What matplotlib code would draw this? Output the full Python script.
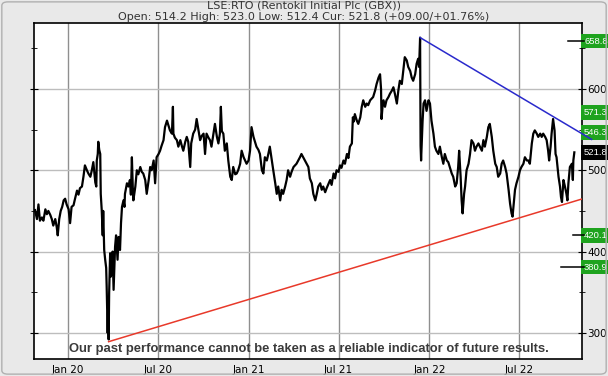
import matplotlib
matplotlib.use("Agg")
import matplotlib.pyplot as plt
import matplotlib.dates as mdates
import pandas as pd
from matplotlib.patches import FancyBboxPatch
from matplotlib.ticker import MultipleLocator

title = "LSE:RTO (Rentokil Initial Plc (GBX))"
subtitle = "Open: 514.2 High: 523.0 Low: 512.4 Cur: 521.8 (+09.00/+01.76%)"
disclaimer = "Our past performance cannot be taken as a reliable indicator of future results."

base_date = pd.Timestamp("2020-01-01")

# price, day offset from 1 Jan 2020
day_offsets = [
    -67, -63, -60, -57, -53, -50, -46, -43, -40, -36, -33, -30, -26, -23, -21, -18, -15, -12, -9, -6,
    -3, 1, 4, 7, 11, 14, 18, 21, 24, 28, 31, 34, 38, 41, 45, 48, 51, 55, 57, 58,
    60, 61, 63, 65, 66, 68, 70, 71, 73, 75, 77, 78, 80, 81, 82, 83, 85, 86, 88, 90,
    92, 94, 95, 97, 100, 102, 104, 105, 107, 109, 112, 114, 115, 119, 122, 125, 127, 129, 131, 132,
    136, 139, 142, 146, 149, 152, 156, 159, 163, 166, 169, 173, 176, 179, 183, 186, 189, 193, 196, 200,
    203, 206, 210, 212, 213, 216, 220, 223, 227, 230, 233, 237, 240, 243, 247, 249, 253, 257, 260, 264,
    267, 270, 274, 277, 280, 284, 287, 290, 294, 297, 301, 304, 307, 309, 311, 314, 317, 321, 324, 328,
    331, 334, 338, 341, 344, 348, 351, 355, 358, 361, 365, 368, 371, 375, 378, 381, 385, 388, 392, 395,
    398, 402, 405, 408, 412, 415, 419, 422, 425, 429, 432, 435, 439, 442, 445, 449, 452, 456, 462, 469,
    472, 479, 486, 489, 493, 496, 500, 503, 506, 510, 513, 516, 520, 523, 530, 533, 537, 540, 543, 547,
    550, 553, 557, 560, 564, 567, 570, 574, 576, 578, 580, 584, 587, 591, 594, 597, 601, 604, 607, 611,
    614, 617, 621, 624, 628, 631, 633, 634, 636, 638, 641, 644, 648, 651, 655, 658, 661, 665, 668, 671,
    675, 678, 681, 685, 688, 692, 695, 698, 702, 705, 708, 710, 712, 713, 714, 715, 717, 719, 722, 725,
    729, 732, 735, 737, 739, 742, 745, 749, 752, 756, 759, 762, 766, 769, 772, 776, 779, 783, 786, 789,
    791, 794, 796, 798, 801, 803, 806, 810, 813, 816, 820, 823, 826, 830, 833, 837, 840, 843, 847, 850,
    853, 857, 860, 864, 867, 870, 874, 877, 880, 884, 887, 891, 894, 897, 899, 902, 904, 907, 911, 914,
    917, 921, 924, 928, 931, 934, 938, 941, 944, 948, 951, 955, 958, 961, 965, 968, 971, 973, 976, 978,
    981, 984, 986, 988, 990, 992, 995, 997, 999, 1002, 1005, 1008, 1010, 1012, 1015, 1019, 1021, 1022, 1024,
]
prices = [
    451, 440, 458, 438, 442, 438, 452, 446, 450, 445, 440, 432, 440, 430, 420, 440, 450, 455, 463, 465,
    458, 452, 435, 455, 457, 465, 475, 470, 478, 480, 492, 506, 500, 496, 492, 500, 510, 485, 480, 512,
    520, 535, 525, 520, 471, 451, 420, 450, 402, 390, 380, 357, 300, 330, 292, 349, 398, 369, 373, 400,
    353, 390, 406, 420, 390, 418, 405, 402, 435, 455, 463, 455, 471, 484, 480, 488, 470, 516, 475, 463,
    480, 500, 495, 504, 498, 496, 488, 471, 488, 504, 500, 512, 484, 516, 520, 524, 530, 537, 553, 561,
    555, 549, 545, 578, 545, 540, 537, 529, 537, 530, 524, 535, 541, 535, 504, 533, 545, 550, 563, 548,
    537, 542, 545, 520, 545, 540, 537, 529, 545, 557, 541, 533, 545, 578, 548, 545, 524, 533, 512, 492,
    488, 504, 495, 496, 500, 508, 524, 516, 512, 508, 512, 524, 553, 541, 535, 529, 525, 520, 500, 496,
    516, 512, 520, 529, 512, 500, 484, 471, 480, 463, 476, 471, 480, 488, 500, 492, 498, 504, 508, 516,
    520, 512, 504, 490, 484, 471, 463, 471, 480, 484, 476, 480, 473, 478, 488, 482, 496, 490, 500, 498,
    506, 503, 512, 508, 520, 515, 529, 533, 565, 560, 569, 561, 557, 565, 578, 586, 578, 582, 580, 586,
    588, 590, 598, 606, 614, 618, 600, 563, 578, 586, 578, 586, 590, 594, 598, 602, 594, 582, 598, 610,
    606, 622, 639, 635, 627, 622, 614, 610, 618, 631, 637, 627, 663, 530, 512, 529, 560, 582, 586, 573,
    586, 582, 561, 553, 545, 529, 524, 520, 529, 516, 508, 520, 512, 510, 504, 496, 492, 480, 484, 504,
    524, 492, 463, 447, 471, 480, 500, 508, 520, 537, 533, 524, 529, 533, 529, 524, 537, 529, 541, 553,
    557, 541, 524, 508, 504, 492, 496, 508, 512, 504, 496, 476, 459, 447, 443, 463, 476, 484, 492, 500,
    504, 508, 516, 512, 512, 508, 533, 545, 549, 545, 541, 545, 541, 545, 541, 537, 524, 512, 529, 545,
    563, 549, 520, 516, 504, 492, 480, 467, 461, 488, 480, 471, 463, 484, 504, 508, 488, 512, 522,
]

# trend lines (day offset, price)
support_days = [82, 1039]
support_prices = [289.3, 464.6]
resist_days = [712, 1059]
resist_prices = [663.1, 537.9]

# target boxes on the right edge
target_levels = [658.8, 571.3, 546.3, 420.1, 380.9]
current_price = 521.8
# short black marker lines near the right edge
marker_levels = [658.8, 420.1, 380.9]
marker_start_days = [1011, 1021, 997]


def to_dates(offsets):
    return base_date + pd.to_timedelta(offsets, unit="D")


fig = plt.figure(figsize=(6.08, 3.76), dpi=100, facecolor="#e9e9e9")
fig.patches.append(FancyBboxPatch((0.003, 0.005), 0.994, 0.99, boxstyle="round,pad=0,rounding_size=0.01",
                                  transform=fig.transFigure, fc="none", ec="#b0b0b0", lw=1.0))
ax = fig.add_axes([34 / 608, 1 - 359 / 376, 548 / 608, 336 / 376])
ax.set_facecolor("white")

x_left = to_dates([-69])[0]
x_right = to_dates([1039.5])[0]
ax.set_xlim(x_left, x_right)
ax.set_ylim(268, 681)

ax.plot(to_dates(day_offsets), prices, color="black", lw=1.6, zorder=3)
ax.plot(to_dates(support_days), support_prices, color="#e8392a", lw=1.1, zorder=4)
ax.plot(to_dates(resist_days), resist_prices, color="#2a2acc", lw=1.1, zorder=4, clip_on=False)

for lvl, d in zip(marker_levels, marker_start_days):
    ax.plot(to_dates([d, 1043]), [lvl, lvl], color="black", lw=1.1, clip_on=False, zorder=4)

ax.xaxis.set_major_locator(mdates.MonthLocator(bymonth=[1, 7]))
ax.xaxis.set_major_formatter(mdates.DateFormatter("%b %y"))
ax.yaxis.set_major_locator(MultipleLocator(100))
ax.yaxis.set_minor_locator(MultipleLocator(50))
ax.tick_params(axis="y", which="both", left=True, right=True, labelleft=False, labelright=True,
               direction="inout", labelsize=7.5, pad=1)
ax.tick_params(axis="y", which="major", length=6)
ax.tick_params(axis="y", which="minor", length=5)
ax.tick_params(axis="x", length=0, labelsize=7.5, pad=4)
ax.grid(axis="x", color="#8f8f8f", lw=1)
ax.grid(axis="y", color="#bdbdbd", lw=1)
ax.set_axisbelow(True)
for s in ax.spines.values():
    s.set_color("black")
    s.set_linewidth(1.2)

label_font = dict(fontsize=6.8, family="Liberation Sans", color="white")
for lvl in target_levels:
    ax.annotate(f"{lvl:.1f}", xy=(1.0, lvl), xycoords=("axes fraction", "data"),
                xytext=(1.5, 0), textcoords="offset points", ha="left", va="center",
                annotation_clip=False, **label_font,
                bbox=dict(boxstyle="square,pad=0.3", fc="#1ea31e", ec="none"))
ax.annotate(f"{current_price:.1f}", xy=(1.0, current_price), xycoords=("axes fraction", "data"),
            xytext=(1.5, 0), textcoords="offset points", ha="left", va="center",
            annotation_clip=False, **label_font,
            bbox=dict(boxstyle="square,pad=0.3", fc="black", ec="none"))

fig.text(0.5, 1 - 6 / 376, title, ha="center", va="center", fontsize=8, color="#333333")
fig.text(0.5, 1 - 17 / 376, subtitle, ha="center", va="center", fontsize=8, color="#333333")
note = fig.text(0.508, 1 - 349 / 376, disclaimer, ha="center", va="center", fontsize=10,
                fontweight="bold", family="Liberation Sans", color="#3a3a3a", zorder=5)

# squeeze the disclaimer to the width it has in the source (about 482 px)
fig.canvas.draw()
w = note.get_window_extent().width
note.set_fontsize(10 * 482 / w)

fig.savefig("out.png", dpi=100, facecolor=fig.get_facecolor())
